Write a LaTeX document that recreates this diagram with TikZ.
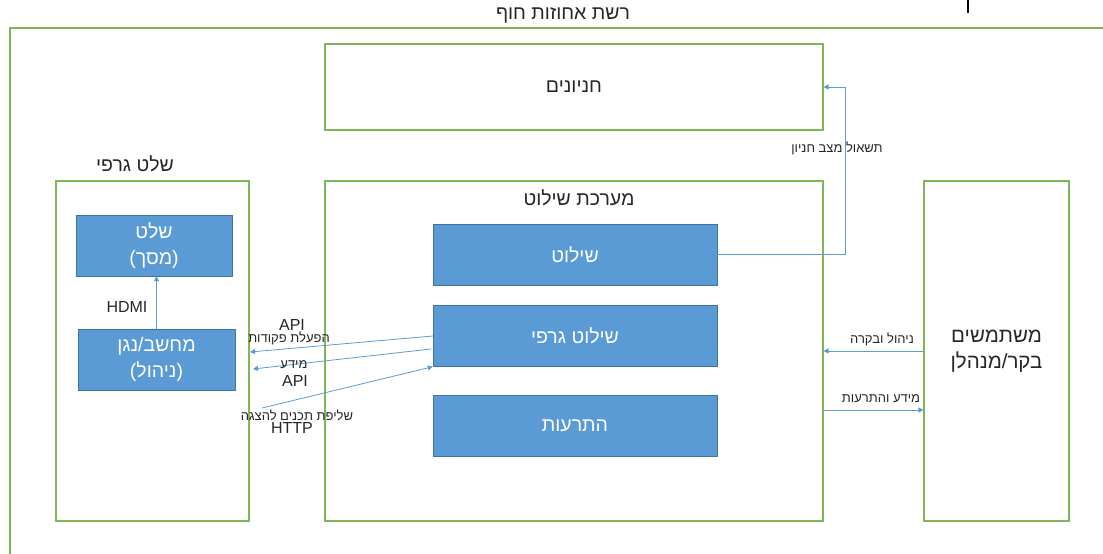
\documentclass[tikz,border=0pt]{standalone}
\usepackage{fontspec}
\setmainfont{Liberation Sans}
\newfontfamily\hebfont[Script=Hebrew]{Liberation Sans}
\TeXXeTstate=1
\usetikzlibrary{arrows.meta}
\definecolor{framegreen}{HTML}{7DB757}
\definecolor{bluefill}{HTML}{5B9BD5}
\definecolor{blueline}{HTML}{41719C}
\definecolor{arrowblue}{HTML}{5B9BD5}
\definecolor{textgray}{HTML}{262626}
\newcommand{\heb}[1]{{\hebfont\beginR #1\endR}}
\newcommand{\fsz}[1]{\fontsize{#1}{26}\selectfont}

\begin{document}
\begin{tikzpicture}[x=1pt, y=-1pt, -,
        group/.style={draw=framegreen, line width=1.1pt, inner sep=0pt, text=textgray, font=\fsz{19.5}},
        blue/.style={draw=blueline, fill=bluefill, text=white, align=center, inner sep=0pt, font=\fsz{19.5}},
        conn/.style={draw=arrowblue, line width=0.8pt, -{Triangle[length=5pt, width=5pt]}},
        lbl/.style={text=textgray, inner sep=0pt, font=\fsz{13}}]
        \useasboundingbox (0,0) rectangle (1103,554);

        % outer network
        \draw[draw=framegreen, line width=1.1pt] (10,554) -- (10,28) -- (1103,28);
        \node[lbl, font=\fsz{19.5}](net) at (563,15){\heb{רשת אחוזות חוף}};
        \draw[line width=1.6pt] (968,0) -- (968,13);

        \node[group, minimum width=498, minimum height=86](parking) at (574,87){\heb{חניונים}};

        % graphic sign
        \node[group, minimum width=193, minimum height=340](signgroup) at (152.5,351){};
        \node[lbl, font=\fsz{19.5}](signgroup_l) at (135,164){\heb{שלט גרפי}};
        \node[blue, minimum width=156, minimum height=61](screen) at (154,245.5){\heb{שלט}\\\heb{(מסך)}};
        \node[blue, minimum width=157, minimum height=61](player) at (156.5,359.5){\heb{מחשב/נגן}\\\heb{(ניהול)}};
        \draw[conn] (player.north) -- (player.north |- screen.south);
        \node[lbl, font=\fsz{16}](hdmi) at (127,307){HDMI};

        % signage system
        \node[group, minimum width=498, minimum height=340](system) at (574,351){};
        \node[lbl, font=\fsz{19.5}](system_l) at (579,198){\heb{מערכת שילוט}};
        \node[blue, minimum width=284, minimum height=61](signs) at (575,254.5){\heb{שילוט}};
        \node[blue, minimum width=284, minimum height=61](gsigns) at (575,336){\heb{שילוט גרפי}};
        \node[blue, minimum width=284, minimum height=61](alerts) at (575,425.5){\heb{התרעות}};

        % users
        \node[group, minimum width=145, minimum height=340, align=center, font=\fsz{20.5}](users) at (996.5,351){\heb{משתמשים}\\\heb{בקר/מנהלן}};

        \coordinate(bend) at (845,254.5);
        \draw[conn] (signs.east) -- (bend) |- (parking.east);
        \node[lbl](query) at (837,148){\heb{תשאול מצב חניון}};

        \draw[conn] (users.west |- 0,351) -- (system.east |- 0,351);
        \node[lbl](control) at (882,339){\heb{ניהול ובקרה}};
        \draw[conn] (system.east |- 0,410) -- (users.west |- 0,410);
        \node[lbl](info) at (881,399){\heb{מידע והתרעות}};

        % API / HTTP
        \coordinate(cmd_end) at (250,352);
        \coordinate(info_start) at (431,349);
        \coordinate(info_end) at (253,369);
        \coordinate(http_start) at (262,408);
        \draw[conn] (gsigns.west) -- (cmd_end);
        \draw[conn] (info_start) -- (info_end);
        \draw[conn] (http_start) -- (gsigns.south west);
        \node[lbl, font=\fsz{16}](api1) at (292,325){API};
        \node[lbl](cmd) at (289,338){\heb{הפעלת פקודות}};
        \node[lbl](infol) at (294,365){\heb{מידע}};
        \node[lbl, font=\fsz{16}](api2) at (295,381){API};
        \node[lbl](fetch) at (297,415){\heb{שליפת תכנים להצגה}};
        \node[lbl, font=\fsz{16}](http) at (292,428){HTTP};
    \end{tikzpicture}
\end{document}
